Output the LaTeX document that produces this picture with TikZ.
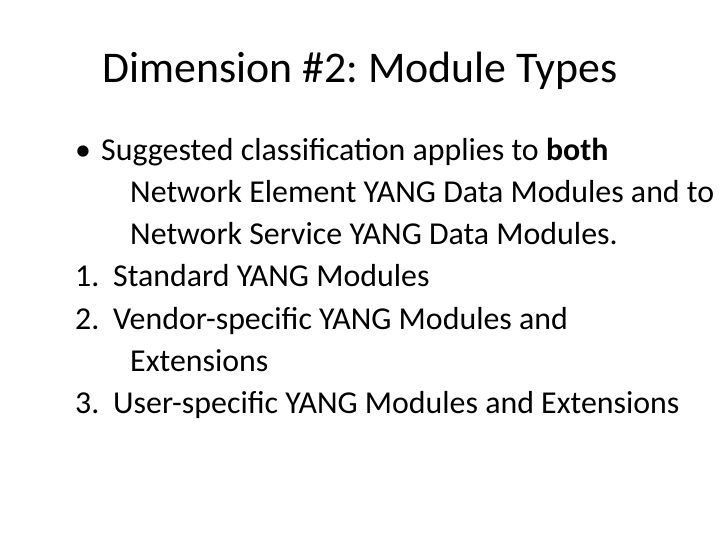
\documentclass[tikz,border=0pt]{standalone}
\usepackage{fontspec}
\setmainfont{Carlito}
\frenchspacing
\begin{document}
\begin{tikzpicture}[x=1bp,y=-1bp,
  body/.style={anchor=base west,inner sep=0pt,font=\fontsize{32}{36}\selectfont},
  ttl/.style={anchor=base,inner sep=0pt,font=\fontsize{44}{50}\selectfont}]
\useasboundingbox (0,0) rectangle (720,540);
\fill[white] (0,0) rectangle (720,540);
\node[ttl] (t) at (360,83) {Dimension \#2: Module Types};
\node[body] (b0) at (75,161) {•};
\node[body] (l1) at (101,161) {Suggested classification applies to \textbf{both}};
\node[body] (l2) at (130,203) {Network Element YANG Data Modules and to};
\node[body] (l3) at (130,245) {Network Service YANG Data Modules.};
\node[body] (n1) at (75,287) {1.};
\node[body] (l4) at (113,287) {Standard YANG Modules};
\node[body] (n2) at (75,329) {2.};
\node[body] (l5) at (113,329) {Vendor-specific YANG Modules and};
\node[body] (l6) at (130,371) {Extensions};
\node[body] (n3) at (75,413) {3.};
\node[body] (l7) at (113,413) {User-specific YANG Modules and Extensions};
\end{tikzpicture}
\end{document}
